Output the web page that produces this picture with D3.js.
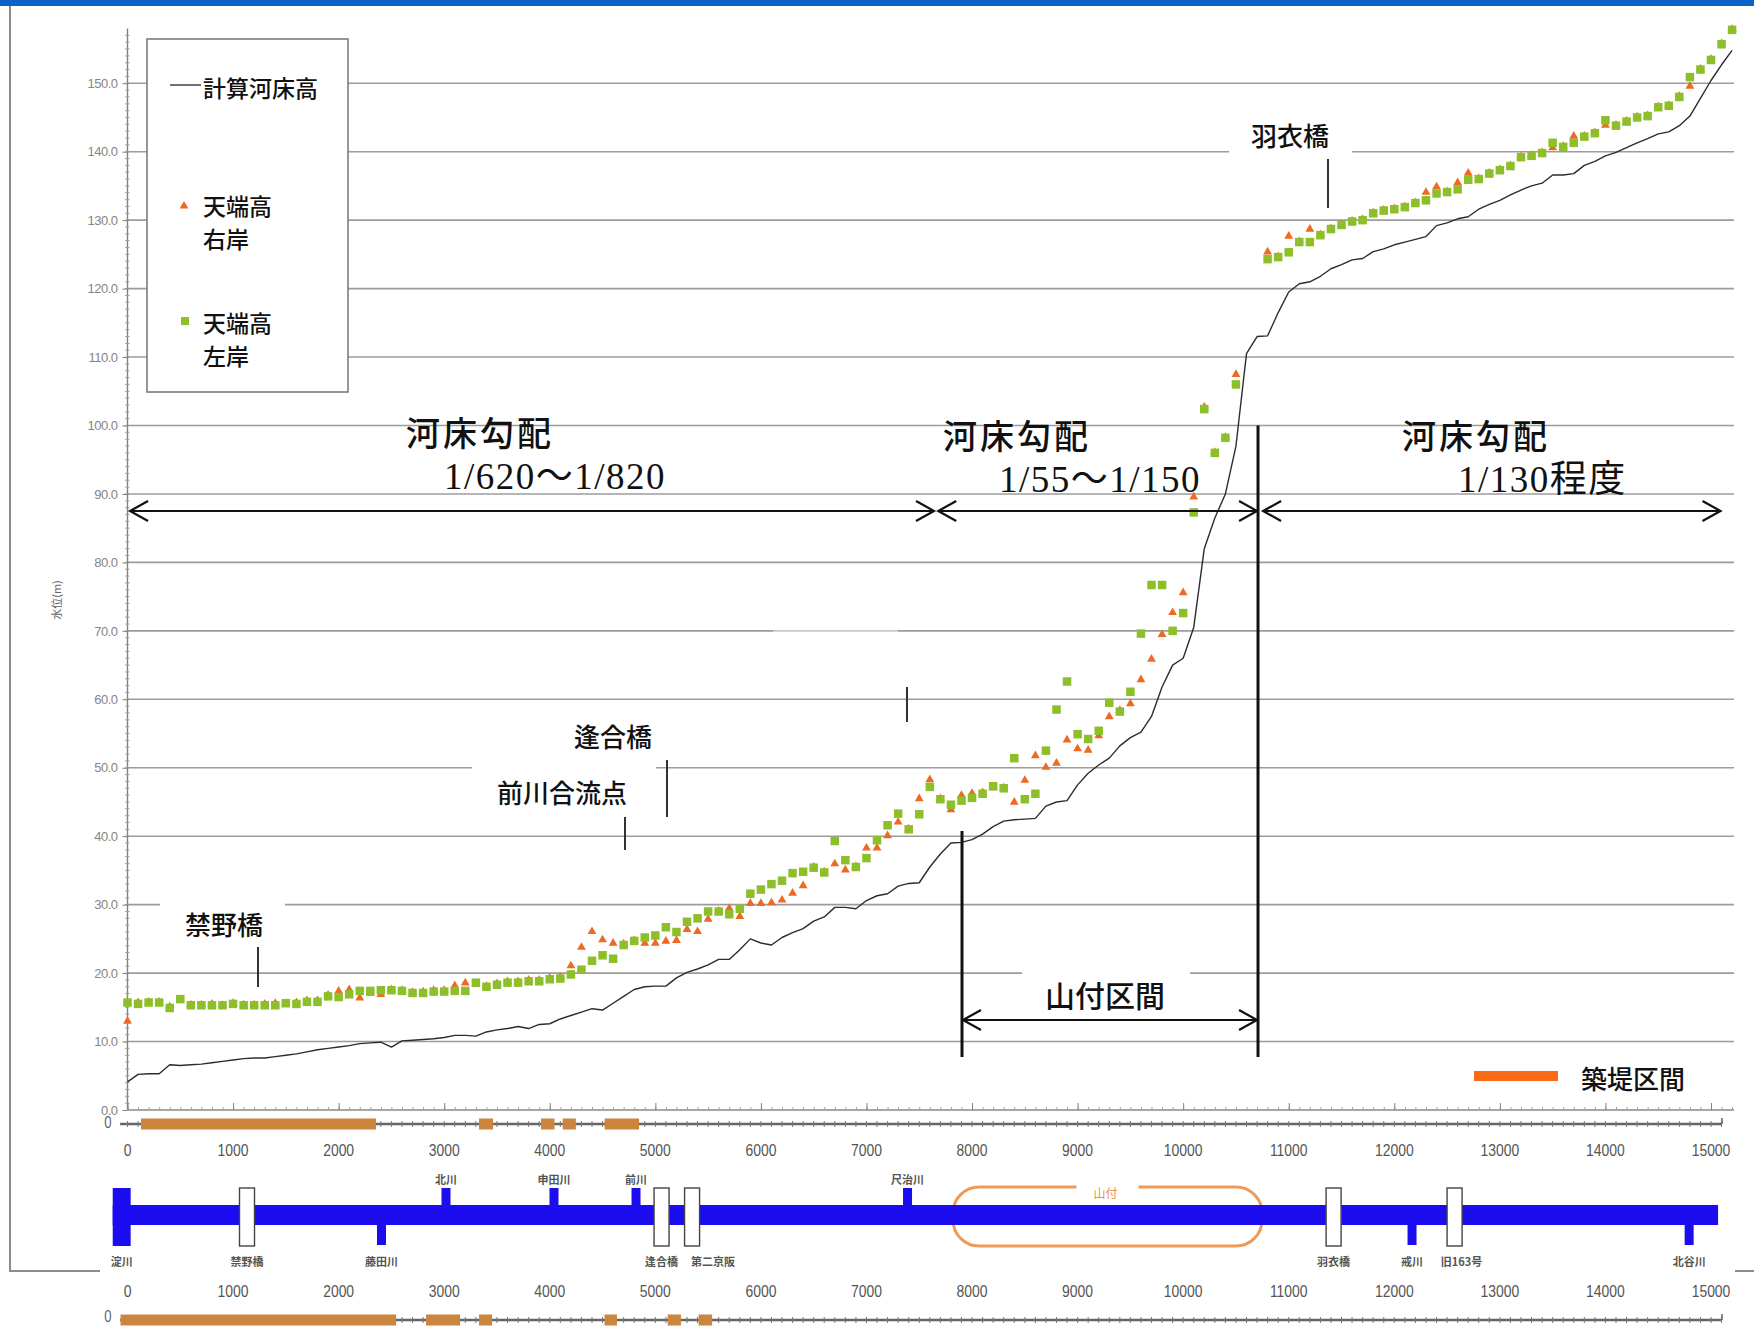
<!DOCTYPE html>
<html>
<head>
<meta charset="utf-8">
<script src="https://cdn.jsdelivr.net/npm/d3@7"></script>
<style>
  body { margin: 0; background: #fff; }
  svg { display: block; }
</style>
</head>
<body>
<svg id="chart" width="1754" height="1327"></svg>
<script>
// ---- survey data: cross sections every 100 m from the Yodo confluence ----
const stationInterval = 100;

// 計算河床高 (m)
const bedHeight = [
  4.1, 5.2, 5.3, 5.3, 6.6, 6.5, 6.6, 6.7, 6.9, 7.1,
  7.3, 7.5, 7.6, 7.6, 7.8, 8.0, 8.2, 8.5, 8.8, 9.0,
  9.2, 9.4, 9.7, 9.8, 9.9, 9.2, 10.1, 10.2, 10.3, 10.4,
  10.6, 10.9, 10.9, 10.8, 11.4, 11.7, 11.9, 12.2, 11.9, 12.5,
  12.6, 13.3, 13.8, 14.3, 14.8, 14.6, 15.6, 16.6, 17.6, 18.0,
  18.1, 18.1, 19.3, 20.1, 20.6, 21.2, 22.0, 22.0, 23.4, 25.0,
  24.4, 24.1, 25.2, 25.9, 26.5, 27.6, 28.2, 29.6, 29.6, 29.4,
  30.6, 31.3, 31.6, 32.7, 33.1, 33.2, 35.5, 37.4, 39.0, 39.1,
  39.5, 40.3, 41.4, 42.2, 42.4, 42.5, 42.6, 44.4, 45.0, 45.2,
  47.5, 49.2, 50.4, 51.4, 53.2, 54.4, 55.2, 57.5, 61.8, 65.0,
  66.0, 70.5, 82.0, 86.5, 90.0, 97.0, 110.5, 113.0, 113.1, 116.5,
  119.5, 120.7, 121.0, 121.8, 122.9, 123.5, 124.2, 124.4, 125.4, 125.8,
  126.4, 126.8, 127.2, 127.6, 129.2, 129.6, 130.2, 130.5, 131.6, 132.3,
  132.9, 133.7, 134.4, 135.0, 135.4, 136.6, 136.6, 136.8, 138.0, 138.6,
  139.4, 139.9, 140.6, 141.3, 141.9, 142.6, 142.9, 143.8, 145.2, 147.8,
  150.4, 152.7, 154.8
];

// 天端高 右岸 (m)
const rightBankCrest = [
  12.9, 15.6, 15.7, 15.7, 15.0, 16.0, 15.3, 15.3, 15.4, 15.2,
  15.5, 15.3, 15.3, 15.4, 15.5, 15.5, 15.6, 15.9, 15.9, 16.7,
  17.3, 17.5, 16.3, 17.0, 16.8, 17.5, 17.4, 17.1, 17.2, 17.4,
  17.4, 18.1, 18.5, 18.3, 18.0, 18.4, 18.7, 18.7, 18.9, 18.9,
  19.2, 19.3, 21.0, 23.7, 26.0, 24.8, 24.3, 24.2, 24.7, 24.3,
  24.3, 24.6, 24.7, 26.3, 26.0, 27.8, 29.0, 29.4, 28.2, 30.1,
  30.1, 30.2, 30.6, 31.6, 32.7, 35.4, 34.7, 35.9, 35.0, 35.5,
  38.2, 38.2, 40.0, 42.0, 41.0, 45.4, 48.2, 45.4, 43.8, 45.9,
  46.2, 46.3, 47.0, 47.0, 44.9, 48.1, 51.7, 50.0, 50.6, 54.0,
  52.7, 52.5, 54.6, 57.4, 58.3, 59.3, 62.8, 65.8, 69.4, 72.6,
  75.5, 89.5, 102.6, 96.0, 98.2, 107.4, null, null, 125.3, 124.6,
  127.6, 126.8, 128.6, 127.8, 128.7, 129.3, 129.8, 130.0, 131.0, 131.4,
  131.6, 131.9, 132.5, 134.0, 134.8, 134.1, 135.4, 136.8, 136.0, 136.8,
  137.3, 137.9, 139.2, 139.4, 139.8, 140.5, 140.7, 142.2, 142.2, 142.7,
  143.8, 143.8, 144.4, 145.0, 145.2, 146.5, 146.7, 148.0, 149.5, 152.0,
  153.4, 155.7, 157.8
];

// 天端高 左岸 (m)
const leftBankCrest = [
  15.7, 15.5, 15.7, 15.7, 14.9, 16.2, 15.3, 15.3, 15.3, 15.3,
  15.5, 15.3, 15.3, 15.3, 15.3, 15.6, 15.5, 15.8, 15.8, 16.6,
  16.5, 16.9, 17.4, 17.4, 17.5, 17.5, 17.4, 17.1, 17.1, 17.3,
  17.3, 17.4, 17.4, 18.6, 18.0, 18.3, 18.6, 18.6, 18.8, 18.8,
  19.1, 19.2, 19.8, 20.5, 21.8, 22.6, 22.1, 24.1, 24.7, 25.2,
  25.5, 26.7, 26.0, 27.5, 28.0, 29.0, 29.0, 28.6, 29.4, 31.6,
  32.2, 33.0, 33.5, 34.6, 34.8, 35.4, 34.7, 39.3, 36.5, 35.5,
  36.8, 39.4, 41.6, 43.3, 41.0, 43.2, 47.2, 45.4, 44.6, 45.2,
  45.6, 46.2, 47.3, 47.0, 51.4, 45.4, 46.2, 52.5, 58.5, 62.6,
  54.9, 54.2, 55.4, 59.5, 58.2, 61.1, 69.6, 76.7, 76.7, 70.0,
  72.6, 87.3, 102.4, 96.0, 98.2, 106.0, null, null, 124.3, 124.6,
  125.3, 126.8, 126.8, 127.8, 128.7, 129.3, 129.8, 130.0, 131.0, 131.4,
  131.6, 131.9, 132.5, 132.9, 133.9, 134.1, 134.5, 135.9, 136.0, 136.8,
  137.3, 137.9, 139.2, 139.4, 139.8, 141.3, 140.7, 141.3, 142.2, 142.7,
  144.6, 143.8, 144.4, 145.0, 145.2, 146.5, 146.7, 148.0, 150.9, 152.0,
  153.4, 155.7, 157.8
];

const seriesNames = ['計算河床高', '天端高\n右岸', '天端高\n左岸'];
const yTickValues = [0, 10, 20, 30, 40, 50, 60, 70, 80, 90, 100, 110, 120, 130, 140, 150];
const xTickValues = [0, 1000, 2000, 3000, 4000, 5000, 6000, 7000, 8000, 9000, 10000, 11000, 12000, 13000, 14000, 15000];

// 築堤区間 (distance ranges, m)
const leveeUpper = [[128, 2354], [3330, 3463], [3917, 4045], [4122, 4247], [4519, 4846]];
const leveeLower = [[-66, 2544], [2828, 3150], [3330, 3453], [4519, 4637], [5117, 5243], [5410, 5538]];

// river schematic features (distance, m)
const tributaries = [
  { name: '北川', d: 3017, side: 'up' },
  { name: '藤田川', d: 2406, side: 'down' },
  { name: '申田川', d: 4040, side: 'up' },
  { name: '前川', d: 4817, side: 'up' },
  { name: '尺治川', d: 7389, side: 'up' },
  { name: '戒川', d: 12168, side: 'down' },
  { name: '北谷川', d: 14793, side: 'down' }
];
const bridges = [
  { name: '禁野橋', d: 1132 },
  { name: '逢合橋', d: 5059 },
  { name: '第二京阪', d: 5348 },
  { name: '羽衣橋', d: 11425 },
  { name: '旧163号', d: 12571 }
];
const confluence = { name: '淀川', from: -140, to: 30 };
const channelEnd = 15067;
const mountainReach = { name: '山付', from: 7820, to: 10747 };

// bed gradient sections
const gradientSections = [
  { from: 24, to: 7640, title: '河床勾配', ratio: '1/620～1/820' },
  { from: 7680, to: 10700, title: '河床勾配', ratio: '1/55～1/150' },
  { from: 10757, to: 15090, title: '河床勾配', ratio: '1/130程度' }
];
const yamatsukiSection = { from: 7905, to: 10709, label: '山付区間' };

// ---------------------------------------------------------------
const W = 1754, H = 1327;
const svg = d3.select('#chart');
const CJK = "'Noto Sans CJK JP', 'Noto Sans CJK SC', sans-serif";
const NARROW = "'Liberation Sans', Arial, sans-serif";
const SERIF = "'Liberation Serif', 'DejaVu Serif', 'Noto Sans CJK JP', serif";

const x = d3.scaleLinear().domain([0, 15000]).range([127.5, 1711]);
const y = d3.scaleLinear().domain([0, 150]).range([1110, 83.25]);
const gridRight = 1734;

const stationOf = i => i * stationInterval;

// narrow numerals: horizontally condensed text anchored at its centre
function narrowText(g, cx, cy, str, size, fill, squeeze = 0.82) {
  return g.append('text')
    .attr('transform', `translate(${cx},${cy}) scale(${squeeze},1)`)
    .attr('text-anchor', 'middle').attr('dominant-baseline', 'central')
    .attr('font-family', NARROW).attr('font-size', size).attr('fill', fill)
    .text(str);
}

// page chrome
svg.append('rect').attr('x', 0).attr('y', 0).attr('width', W).attr('height', 6).attr('fill', '#0a62c8');
svg.append('path').attr('d', 'M10,6 V1271 H100 M1735,1271 H1754')
  .attr('fill', 'none').attr('stroke', '#8c8c8c').attr('stroke-width', 2);

// horizontal gridlines
svg.append('g').selectAll('line')
  .data(yTickValues.filter(v => v > 0))
  .join('line')
  .attr('x1', x(0)).attr('x2', gridRight)
  .attr('y1', d => y(d)).attr('y2', d => y(d))
  .attr('stroke', '#9c9c9c').attr('stroke-width', 1.6);

// white plates behind the call-out labels
const plates = [
  [160, 895, 125, 55, 1],
  [472, 752, 184, 48, 1],
  [1229, 143, 123, 20, 1],
  [1022, 964, 168, 42, 1],
  [773, 624, 125, 14, 0.45]
];
svg.append('g').selectAll('rect').data(plates).join('rect')
  .attr('x', d => d[0]).attr('y', d => d[1]).attr('width', d => d[2]).attr('height', d => d[3])
  .attr('fill', '#fff').attr('opacity', d => d[4]);

// y axis
const yAxisG = svg.append('g').attr('transform', `translate(${x(0)},0)`);
yAxisG.append('line').attr('x1', 0).attr('x2', 0).attr('y1', y(0)).attr('y2', y(158))
  .attr('stroke', '#808080').attr('stroke-width', 1.4);
yAxisG.append('g').selectAll('line').data(d3.range(1, 158)).join('line')
  .attr('x1', -2.5).attr('x2', 2).attr('y1', d => y(d)).attr('y2', d => y(d))
  .attr('stroke', '#9a9a9a').attr('stroke-width', 0.9);
yAxisG.append('g').call(
    d3.axisLeft(y).tickValues(yTickValues).tickFormat(d3.format('.1f')).tickSize(5).tickPadding(5)
  )
  .call(g => g.select('.domain').remove())
  .call(g => g.selectAll('line').attr('stroke', '#808080'))
  .call(g => g.selectAll('text').attr('font-family', "'Liberation Sans', Arial, sans-serif")
    .attr('font-size', 13).attr('fill', '#858585').attr('letter-spacing', -0.5));

svg.append('text')
  .attr('transform', 'translate(56,600) rotate(-90)')
  .attr('text-anchor', 'middle').attr('dominant-baseline', 'central')
  .attr('font-family', CJK).attr('font-size', 11).attr('fill', '#666')
  .text('水位(m)');

// x axis (distance) with minor ticks
const xAxisG = svg.append('g').attr('transform', `translate(0,${y(0)})`);
xAxisG.append('line').attr('x1', x(0)).attr('x2', gridRight).attr('stroke', '#8a8a8a').attr('stroke-width', 1.4);
xAxisG.append('g').call(d3.axisTop(x).tickValues(d3.range(0, 15300, 100)).tickSize(3).tickFormat(''))
  .call(g => g.select('.domain').remove())
  .call(g => g.selectAll('line').attr('stroke', '#a0a0a0'));
xAxisG.append('g').call(d3.axisTop(x).tickValues(xTickValues).tickSize(7).tickFormat(''))
  .call(g => g.select('.domain').remove())
  .call(g => g.selectAll('line').attr('stroke', '#808080'));

// bed profile and bank crest markers
const line = d3.line()
  .defined(d => d != null)
  .x((d, i) => x(stationOf(i)))
  .y(d => y(d));
svg.append('path').datum(bedHeight)
  .attr('d', line).attr('fill', 'none')
  .attr('stroke', '#2c2c2c').attr('stroke-width', 1.4).attr('stroke-linejoin', 'round');

const tri = d3.symbol().type(d3.symbolTriangle).size(34);
const rightPts = rightBankCrest.map((v, i) => ({ d: stationOf(i), v })).filter(p => p.v != null);
const leftPts = leftBankCrest.map((v, i) => ({ d: stationOf(i), v })).filter(p => p.v != null);

svg.append('g').selectAll('path').data(rightPts).join('path')
  .attr('d', tri)
  .attr('transform', p => `translate(${x(p.d)},${y(p.v) - 0.5})`)
  .attr('fill', '#ee6a22');

const sq = 8.5;
svg.append('g').selectAll('rect').data(leftPts).join('rect')
  .attr('x', p => x(p.d) - sq / 2).attr('y', p => y(p.v) - sq / 2)
  .attr('width', sq).attr('height', sq)
  .attr('fill', '#8cbf2a');

// call-out labels with leader ticks
const callouts = [
  { text: '禁野橋', cx: 224, cy: 923, tick: [258, 947, 987] },
  { text: '逢合橋', cx: 613, cy: 735, tick: [667, 760, 817] },
  { text: '前川合流点', cx: 562, cy: 791, tick: [625, 817, 850] },
  { text: '羽衣橋', cx: 1290, cy: 134, tick: [1328, 159, 208] },
  { text: null, tick: [907, 687, 722] }
];
const co = svg.append('g');
callouts.forEach(c => {
  co.append('line').attr('x1', c.tick[0]).attr('x2', c.tick[0]).attr('y1', c.tick[1]).attr('y2', c.tick[2])
    .attr('stroke', '#333').attr('stroke-width', 2);
  if (c.text) {
    co.append('text').attr('x', c.cx).attr('y', c.cy)
      .attr('text-anchor', 'middle').attr('dominant-baseline', 'central')
      .attr('font-family', CJK).attr('font-size', 26).attr('font-weight', 500).attr('fill', '#111')
      .text(c.text);
  }
});

// double-headed arrows
function arrow(g, x1, x2, yy, head = 18, half = 10, w = 2.2) {
  g.append('path')
    .attr('d', `M${x1},${yy} H${x2} M${x1 + head},${yy - half} L${x1},${yy} L${x1 + head},${yy + half} M${x2 - head},${yy - half} L${x2},${yy} L${x2 - head},${yy + half}`)
    .attr('fill', 'none').attr('stroke', '#111').attr('stroke-width', w);
}
const ann = svg.append('g');
const arrowY = 511;
gradientSections.forEach(s => arrow(ann, x(s.from), x(s.to), arrowY));

// section boundaries
ann.append('line').attr('x1', x(yamatsukiSection.to)).attr('x2', x(yamatsukiSection.to))
  .attr('y1', y(100)).attr('y2', 1057).attr('stroke', '#111').attr('stroke-width', 3);
ann.append('line').attr('x1', x(yamatsukiSection.from)).attr('x2', x(yamatsukiSection.from))
  .attr('y1', 831).attr('y2', 1057).attr('stroke', '#111').attr('stroke-width', 3);
arrow(ann, x(yamatsukiSection.from) + 1, x(yamatsukiSection.to) - 1, 1020);
ann.append('text').attr('x', 1105).attr('y', 994)
  .attr('text-anchor', 'middle').attr('dominant-baseline', 'central')
  .attr('font-family', CJK).attr('font-size', 30).attr('font-weight', 500).attr('fill', '#111')
  .text(yamatsukiSection.label);

// gradient titles
const titleLayout = [
  { tx: 406, ty: 431, rx: 444, ry: 476 },
  { tx: 943, ty: 434, rx: 999, ry: 479 },
  { tx: 1402, ty: 434, rx: 1458, ry: 479 }
];
gradientSections.forEach((s, i) => {
  const L = titleLayout[i];
  ann.append('text').attr('x', L.tx).attr('y', L.ty).attr('dominant-baseline', 'central')
    .attr('font-family', CJK).attr('font-size', 34).attr('font-weight', 500)
    .attr('letter-spacing', 3).attr('fill', '#111').text(s.title);
  ann.append('text').attr('x', L.rx).attr('y', L.ry).attr('dominant-baseline', 'central')
    .attr('font-family', SERIF).attr('font-size', 37).attr('letter-spacing', 1.5)
    .attr('fill', '#111').text(s.ratio);
});

// legend
const lg = svg.append('g');
lg.append('rect').attr('x', 147).attr('y', 39).attr('width', 201).attr('height', 353)
  .attr('fill', '#fff').attr('stroke', '#7c7c7c').attr('stroke-width', 1.6);
lg.append('line').attr('x1', 170).attr('x2', 201).attr('y1', 85).attr('y2', 85)
  .attr('stroke', '#222').attr('stroke-width', 1.3);
lg.append('path').attr('d', tri).attr('transform', 'translate(184,206)').attr('fill', '#ee6a22');
lg.append('rect').attr('x', 181).attr('y', 317).attr('width', 8).attr('height', 8).attr('fill', '#8cbf2a');
const legendRows = [
  { lines: seriesNames[0].split('\n'), y0: 87 },
  { lines: seriesNames[1].split('\n'), y0: 205 },
  { lines: seriesNames[2].split('\n'), y0: 322 }
];
legendRows.forEach(r => r.lines.forEach((t, j) => {
  lg.append('text').attr('x', 203).attr('y', r.y0 + j * 33).attr('dominant-baseline', 'central')
    .attr('font-family', CJK).attr('font-size', 23).attr('font-weight', 500).attr('fill', '#111')
    .text(t);
}));

// 築堤区間 key
svg.append('rect').attr('x', 1474).attr('y', 1071).attr('width', 84).attr('height', 10).attr('fill', '#fb6a14');
svg.append('text').attr('x', 1581).attr('y', 1077).attr('dominant-baseline', 'central')
  .attr('font-family', CJK).attr('font-size', 26).attr('font-weight', 500).attr('fill', '#111')
  .text('築堤区間');

// levee rows (築堤区間 along the distance scale)
function leveeRow(yy, segments, zeroY) {
  const g = svg.append('g');
  g.append('line').attr('x1', x(-70)).attr('x2', 1722).attr('y1', yy).attr('y2', yy)
    .attr('stroke', '#666').attr('stroke-width', 2.4);
  g.append('g').selectAll('line').data(d3.range(0, 15200, 100)).join('line')
    .attr('x1', d => x(d)).attr('x2', d => x(d)).attr('y1', yy - 3).attr('y2', yy + 3)
    .attr('stroke', '#777').attr('stroke-width', 1);
  g.append('line').attr('x1', 1722).attr('x2', 1722).attr('y1', yy - 6).attr('y2', yy)
    .attr('stroke', '#666').attr('stroke-width', 1.5);
  g.append('g').selectAll('rect').data(segments).join('rect')
    .attr('x', s => x(s[0])).attr('width', s => x(s[1]) - x(s[0]))
    .attr('y', yy - 5.5).attr('height', 11).attr('fill', '#cc853f');
  narrowText(g, 108, zeroY, '0', 16, '#666');
}
leveeRow(1124, leveeUpper, 1123);
leveeRow(1320, leveeLower, 1317);

function distanceLabels(yy) {
  const g = svg.append('g');
  xTickValues.forEach(d => narrowText(g, x(d), yy, d, 17, '#555'));
}
distanceLabels(1150);
distanceLabels(1291);

// river schematic
const BLUE = '#1c0cf0';
const sch = svg.append('g');
const barTop = 1205, barH = 20, stubTop = 1188, stubBottom = 1246;
// 山付 reach outline
const mrX1 = x(mountainReach.from), mrX2 = x(mountainReach.to);
sch.append('rect').attr('x', mrX1).attr('y', 1187).attr('width', mrX2 - mrX1).attr('height', 59)
  .attr('rx', 26).attr('ry', 26).attr('fill', 'none').attr('stroke', '#ef9a58').attr('stroke-width', 3);
sch.append('rect').attr('x', (mrX1 + mrX2) / 2 - 31).attr('y', 1182).attr('width', 62).attr('height', 10).attr('fill', '#fff');
sch.append('text').attr('x', (mrX1 + mrX2) / 2 - 2).attr('y', 1192).attr('text-anchor', 'middle')
  .attr('dominant-baseline', 'central').attr('font-family', CJK).attr('font-size', 12).attr('fill', '#ec9050')
  .text(mountainReach.name);
// main channel
sch.append('rect').attr('x', x(confluence.from)).attr('y', barTop)
  .attr('width', x(channelEnd) - x(confluence.from)).attr('height', barH).attr('fill', BLUE);
sch.append('rect').attr('x', x(confluence.from)).attr('y', stubTop)
  .attr('width', x(confluence.to) - x(confluence.from)).attr('height', stubBottom - stubTop).attr('fill', BLUE);
// tributaries
sch.append('g').selectAll('rect').data(tributaries).join('rect')
  .attr('x', t => x(t.d) - 4.5).attr('width', 9)
  .attr('y', t => t.side === 'up' ? stubTop : barTop + barH - 1)
  .attr('height', t => t.side === 'up' ? barTop - stubTop + 1 : stubBottom - 1 - (barTop + barH - 1))
  .attr('fill', BLUE);
// bridges
sch.append('g').selectAll('rect').data(bridges).join('rect')
  .attr('x', b => x(b.d) - 7.5).attr('width', 15).attr('y', stubTop).attr('height', stubBottom - stubTop)
  .attr('fill', '#fff').attr('stroke', '#444').attr('stroke-width', 1.4);

const labelShift = { '第二京阪': 21, '旧163号': 7, '淀川': 9 };
const schLabel = (name, cx, cy) => sch.append('text').attr('x', cx).attr('y', cy)
  .attr('text-anchor', 'middle').attr('dominant-baseline', 'central')
  .attr('font-family', CJK).attr('font-size', 11).attr('font-weight', 700).attr('fill', '#555')
  .text(name);
tributaries.forEach(t => schLabel(t.name, x(t.d) + (labelShift[t.name] || 0), t.side === 'up' ? 1179 : 1261));
bridges.forEach(b => schLabel(b.name, x(b.d) + (labelShift[b.name] || 0), 1261));
schLabel(confluence.name, x(confluence.from) + labelShift['淀川'], 1261);
</script>
</body>
</html>
